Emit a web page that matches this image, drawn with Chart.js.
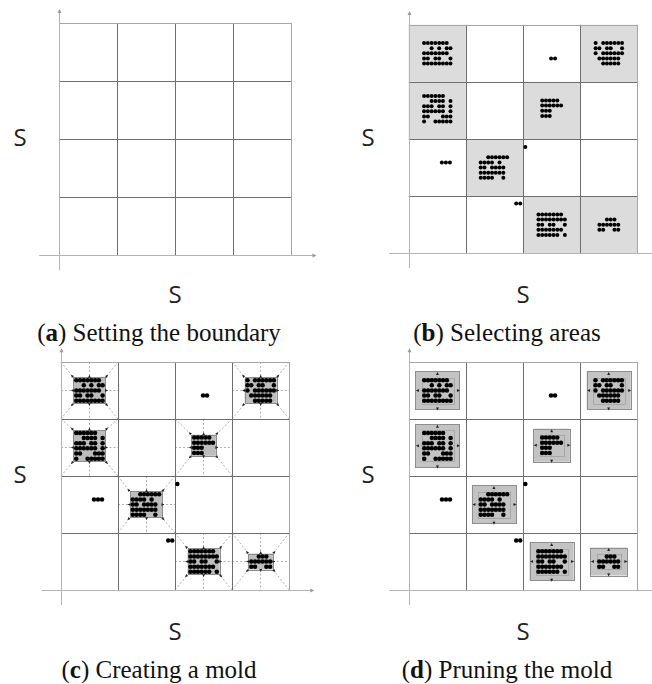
<!DOCTYPE html>
<html>
<head>
<meta charset="utf-8">
<script src="https://cdn.jsdelivr.net/npm/chart.js@4.4.1/dist/chart.umd.min.js"></script>
<style>
  body { margin: 0; width: 652px; height: 684px; overflow: hidden; background: #fff; position: relative; }
  canvas { position: absolute; }
  .axis-name { position: absolute; font-family: "Open Sans", sans-serif; font-size: 24px; color: #222; line-height: 24px; transform: translateX(-50%); }
  .caption { position: absolute; font-family: "Liberation Serif", serif; font-size: 25px; color: #111; white-space: nowrap; line-height: 25px; transform: translateX(-50%); }
</style>
</head>
<body>
<script>
// ---- data -------------------------------------------------------------
const axisName = 'S';
const captionLetters = ['a', 'b', 'c', 'd'];
const captionTexts = ['Setting the boundary', 'Selecting areas', 'Creating a mold', 'Pruning the mold'];

// cells (column, row) that hold a dense cluster, row 0 at the bottom
const clusterCells = [[0, 3], [3, 3], [0, 2], [2, 2], [1, 1], [2, 0], [3, 0]];
const clusterCenters = [[0.5, 3.5], [3.5, 3.5], [0.5, 2.53], [2.5, 2.54], [1.49, 1.5], [2.5, 0.5], [3.5, 0.5]];
// dot layout of each cluster, top row first ('#' = point)
const clusterPatterns = [
  ['#######.', '..#.#.##', '#######.', '##.##..#', '########'],
  ['#.######', '##.##..#', '#.######', '.######.', '..#####.'],
  ['######..', '..####.#', '###.##.#', '######.#', '##...###', '#..#####'],
  ['#####.', '######', '###...', '###...'],
  ['..######', '####.#..', '##.####.', '#######.', '####..#.'],
  ['#######.', '########', '##.##..#', '#######.', '######.#'],
  ['..###.', '######', '##..##']
];
const dotStepX = 0.066;
const dotStepY = 0.09;

// isolated points outside the clusters
const strayX = [2.49, 2.56, 2.04, 0.58, 0.65, 0.72, 1.88, 1.95];
const strayY = [3.41, 3.41, 1.86, 1.59, 1.59, 1.59, 0.87, 0.87];

const gridN = 4;

// ---- points -----------------------------------------------------------
function clusterPoints(k) {
  const rows = clusterPatterns[k];
  const [cx, cy] = clusterCenters[k];
  const nr = rows.length, nc = rows[0].length;
  const pts = [];
  rows.forEach((row, r) => {
    [...row].forEach((ch, c) => {
      if (ch === '#') {
        pts.push({ x: cx + (c - (nc - 1) / 2) * dotStepX, y: cy + ((nr - 1) / 2 - r) * dotStepY });
      }
    });
  });
  return pts;
}
const clusters = clusterPatterns.map((_, k) => clusterPoints(k));
const strays = strayX.map((x, i) => ({ x, y: strayY[i] }));
const allDots = clusters.flat().concat(strays);

function bounds(pts) {
  const xs = pts.map(p => p.x), ys = pts.map(p => p.y);
  return { x0: Math.min(...xs), x1: Math.max(...xs), y0: Math.min(...ys), y1: Math.max(...ys) };
}
const clusterBounds = clusters.map(bounds);

// ---- drawing helpers --------------------------------------------------
function line(ctx, x1, y1, x2, y2) {
  ctx.beginPath();
  ctx.moveTo(x1, y1);
  ctx.lineTo(x2, y2);
  ctx.stroke();
}
// small filled triangle, tip at (x, y) pointing along (ux, uy)
function tri(ctx, x, y, ux, uy, len, half) {
  const n = Math.hypot(ux, uy);
  ux /= n; uy /= n;
  ctx.beginPath();
  ctx.moveTo(x, y);
  ctx.lineTo(x - ux * len - uy * half, y - uy * len + ux * half);
  ctx.lineTo(x - ux * len + uy * half, y - uy * len - ux * half);
  ctx.closePath();
  ctx.fill();
}
const crisp = v => Math.round(v) + 0.5;

const cellGrid = {
  id: 'cellGrid',
  beforeDatasetsDraw(chart, args, opts) {
    const { ctx } = chart;
    const sx = chart.scales.x, sy = chart.scales.y;
    const px = v => sx.getPixelForValue(v);
    const py = v => sy.getPixelForValue(v);
    const mode = opts.mode;
    ctx.save();

    // selected cells
    if (mode === 'select') {
      ctx.fillStyle = '#dcdcdc';
      clusterCells.forEach(([c, r]) => {
        ctx.fillRect(px(c), py(r + 1), px(c + 1) - px(c), py(r) - py(r + 1));
      });
    }

    // guide lines from the cell boundary towards the mold
    if (mode === 'mold') {
      ctx.strokeStyle = '#9c9c9c';
      ctx.lineWidth = 0.8;
      ctx.setLineDash([2, 2]);
      clusterCells.forEach(([c, r], k) => {
        const b = clusterBounds[k], m = 0.05;
        const L = px(c), R = px(c + 1), T = py(r + 1), B = py(r);
        const mL = px(b.x0 - m), mR = px(b.x1 + m), mT = py(b.y1 + m), mB = py(b.y0 - m);
        const cx = px(c + 0.5), cy = py(r + 0.5);
        line(ctx, L, T, mL, mT); line(ctx, R, T, mR, mT);
        line(ctx, L, B, mL, mB); line(ctx, R, B, mR, mB);
        line(ctx, cx, T, cx, mT); line(ctx, cx, mB, cx, B);
        line(ctx, L, cy, mL, cy); line(ctx, mR, cy, R, cy);
      });
      ctx.setLineDash([]);
    }

    // grid lines
    ctx.lineWidth = 1;
    for (let i = 0; i <= gridN; i++) {
      ctx.strokeStyle = i === gridN ? '#a6a6a6' : '#6e6e6e';
      const gx = crisp(px(i)), gy = crisp(py(i));
      if (i > 0) {
        line(ctx, gx, py(0), gx, py(gridN));
        line(ctx, px(0), gy, px(gridN), gy);
      }
    }

    // axes with arrow heads
    ctx.strokeStyle = '#b4b4b4';
    ctx.fillStyle = '#9a9a9a';
    const ax = crisp(px(0)), ay = crisp(py(0));
    line(ctx, px(-0.34), ay, px(4.42), ay);
    line(ctx, ax, py(-0.26), ax, py(4.22));
    tri(ctx, px(4.44), ay, 1, 0, 4, 2);
    tri(ctx, ax, py(4.24), 0, -1, 4, 2);

    // molds
    if (mode === 'mold') {
      clusterCells.forEach(([c, r], k) => {
        const b = clusterBounds[k], m = 0.05;
        const mL = px(b.x0 - m), mR = px(b.x1 + m), mT = py(b.y1 + m), mB = py(b.y0 - m);
        const cx = px(c + 0.5), cy = py(r + 0.5);
        ctx.fillStyle = '#bdbdbd';
        ctx.strokeStyle = '#8c8c8c';
        ctx.fillRect(mL, mT, mR - mL, mB - mT);
        ctx.strokeRect(crisp(mL), crisp(mT), Math.round(mR - mL), Math.round(mB - mT));
        ctx.fillStyle = '#222';
        const o = 2.5;
        tri(ctx, mL - o, mT - o, -1, -1, 3, 1.4);
        tri(ctx, mR + o, mT - o, 1, -1, 3, 1.4);
        tri(ctx, mL - o, mB + o, -1, 1, 3, 1.4);
        tri(ctx, mR + o, mB + o, 1, 1, 3, 1.4);
        tri(ctx, cx, mT - o, 0, -1, 3, 1.4);
        tri(ctx, cx, mB + o, 0, 1, 3, 1.4);
        tri(ctx, mL - o, cy, -1, 0, 3, 1.4);
        tri(ctx, mR + o, cy, 1, 0, 3, 1.4);
      });
    }

    // pruned molds
    if (mode === 'prune') {
      clusterCells.forEach((cell, k) => {
        const b = clusterBounds[k], m = 0.155, mi = 0.045;
        const oL = px(b.x0 - m), oR = px(b.x1 + m), oT = py(b.y1 + m), oB = py(b.y0 - m);
        const iL = px(b.x0 - mi), iR = px(b.x1 + mi), iT = py(b.y1 + mi), iB = py(b.y0 - mi);
        const cx = (oL + oR) / 2, cy = (oT + oB) / 2;
        ctx.fillStyle = '#c3c3c3';
        ctx.strokeStyle = '#8e8e8e';
        ctx.fillRect(oL, oT, oR - oL, oB - oT);
        ctx.strokeRect(crisp(oL), crisp(oT), Math.round(oR - oL), Math.round(oB - oT));
        ctx.strokeStyle = '#a2a2a2';
        ctx.lineWidth = 0.8;
        ctx.strokeRect(crisp(iL), crisp(iT), Math.round(iR - iL), Math.round(iB - iT));
        ctx.setLineDash([1.5, 1.5]);
        line(ctx, cx, iT, cx, oT + 2); line(ctx, cx, iB, cx, oB - 2);
        line(ctx, iL, cy, oL + 2, cy); line(ctx, iR, cy, oR - 2, cy);
        ctx.setLineDash([]);
        ctx.lineWidth = 1;
        ctx.fillStyle = '#222';
        tri(ctx, cx, oT + 0.5, 0, -1, 3, 1.5);
        tri(ctx, cx, oB + 1, 0, 1, 3, 1.5);
        tri(ctx, oL + 0.5, cy, -1, 0, 3, 1.5);
        tri(ctx, oR + 0.5, cy, 1, 0, 3, 1.5);
      });
    }
    ctx.restore();
  }
};

// ---- panels -----------------------------------------------------------
const cellPx = 58;
const padL = 22, padR = 30, padT = 16, padB = 18;
const panels = [
  { ox: 59, oy: 255, mode: 'boundary', dots: [], radius: 0 },
  { ox: 407, oy: 255, mode: 'select', dots: allDots, radius: 2.0 },
  { ox: 59, oy: 592, mode: 'mold', dots: allDots, radius: 2.25 },
  { ox: 407, oy: 592, mode: 'prune', dots: allDots, radius: 2.25 }
];

panels.forEach((p, i) => {
  const w = padL + gridN * cellPx + padR;
  const h = padT + gridN * cellPx + padB;
  const canvas = document.createElement('canvas');
  canvas.width = w;
  canvas.height = h;
  canvas.style.left = (p.ox - padL) + 'px';
  canvas.style.top = (p.oy - gridN * cellPx - padT) + 'px';
  document.body.appendChild(canvas);

  new Chart(canvas, {
    type: 'scatter',
    data: {
      datasets: [{
        data: p.dots,
        pointRadius: p.radius,
        pointHoverRadius: p.radius,
        pointBackgroundColor: '#000',
        pointBorderWidth: 0
      }]
    },
    options: {
      responsive: false,
      animation: false,
      events: [],
      layout: { padding: 0 },
      scales: {
        x: { type: 'linear', display: false, min: -padL / cellPx, max: (w - padL) / cellPx },
        y: { type: 'linear', display: false, min: -padB / cellPx, max: (h - padB) / cellPx }
      },
      plugins: {
        legend: { display: false },
        tooltip: { enabled: false },
        cellGrid: { mode: p.mode }
      }
    },
    plugins: [cellGrid]
  });

  // axis names and caption
  const midX = p.ox + gridN * cellPx / 2;
  const midY = p.oy - gridN * cellPx / 2;
  const left = document.createElement('div');
  left.className = 'axis-name';
  left.textContent = axisName;
  left.style.left = (p.ox - 39) + 'px';
  left.style.top = (midY - 14) + 'px';
  document.body.appendChild(left);

  const bottom = document.createElement('div');
  bottom.className = 'axis-name';
  bottom.textContent = axisName;
  bottom.style.left = midX + 'px';
  bottom.style.top = (p.oy + 27) + 'px';
  document.body.appendChild(bottom);

  const cap = document.createElement('div');
  cap.className = 'caption';
  cap.innerHTML = '(<b>' + captionLetters[i] + '</b>) ' + captionTexts[i];
  cap.style.left = (midX - 16) + 'px';
  cap.style.top = (p.oy + 65) + 'px';
  document.body.appendChild(cap);
});
</script>
</body>
</html>
